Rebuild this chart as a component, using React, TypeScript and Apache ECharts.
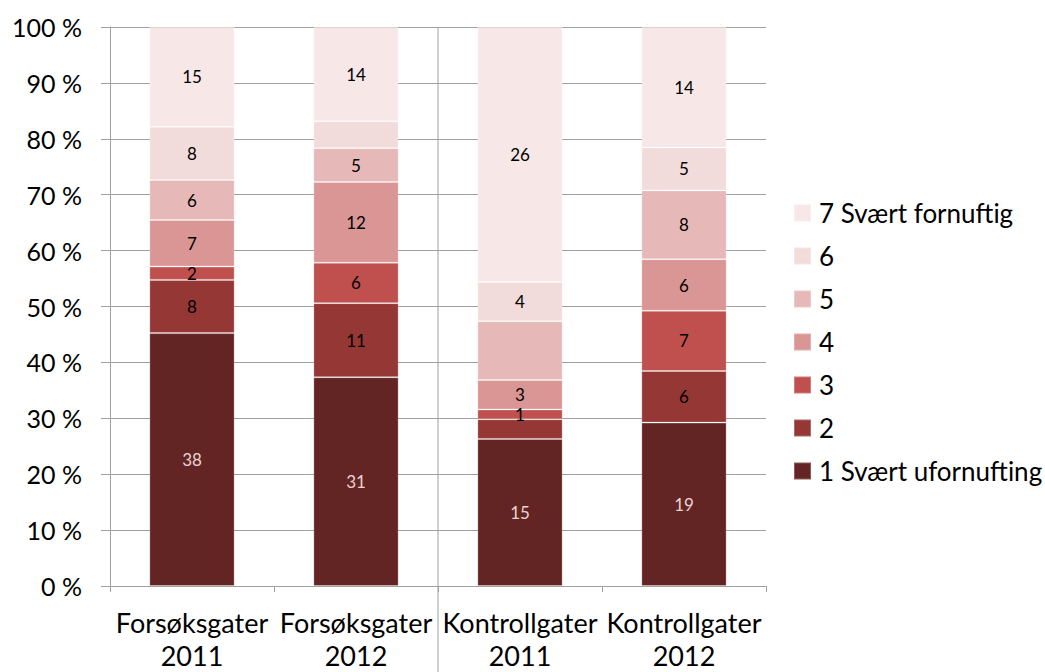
import React, { useEffect, useRef } from "react";
import * as echarts from "echarts";

const categories = ["Forsøksgater\n2011", "Forsøksgater\n2012", "Kontrollgater\n2011", "Kontrollgater\n2012"];
const seriesNames = ["1 Svært ufornufting", "2", "3", "4", "5", "6", "7 Svært fornuftig"];
const counts1 = [38, 31, 15, 19];
const counts2 = [8, 11, 2, 6];
const counts3 = [2, 6, 1, 7];
const counts4 = [7, 12, 3, 6];
const counts5 = [6, 5, 6, 8];
const counts6 = [8, 4, 4, 5];
const counts7 = [15, 14, 26, 14];
// [seriesIndex, categoryIndex] of segments with no visible label in the reference
const unlabeled = [[1, 2], [4, 2], [5, 1]];
const yTicks = [0, 10, 20, 30, 40, 50, 60, 70, 80, 90, 100];

const colors = ["#632523", "#953735", "#C0504D", "#D99694", "#E6B9B8", "#F2DCDB", "#F7E7E7"];
const FONT = "Lato";

export default function App() {
  const ref = useRef<HTMLDivElement>(null);
  useEffect(() => {
    if (!ref.current) return;
    const chart = echarts.init(ref.current, null, { renderer: "svg" });
    const all = [counts1, counts2, counts3, counts4, counts5, counts6, counts7];
    const totals = categories.map((_, c) => all.reduce((s, arr) => s + arr[c], 0));
    const gridLeft = 110, gridRight = 279, gridTop = 27, gridBottom = 82;
    const W = 1045, H = 672;
    const plotW = W - gridLeft - gridRight;
    const series = all.map((arr, si) => ({
      name: seriesNames[si],
      type: "bar",
      stack: "total",
      barWidth: "52%",
      itemStyle: { color: colors[si], borderColor: "rgba(255,255,255,0.25)", borderWidth: 1 },
      label: {
        show: true,
        position: "inside",
        fontFamily: FONT,
        fontSize: 17,
        lineHeight: 16,
        color: si === 0 ? "#EAD3D2" : "#000",
        formatter: (p: any) => String(p.data.count),
      },
      data: arr.map((v, ci) => {
        const hide = unlabeled.some(([s, c]) => s === si && c === ci);
        const item: any = { value: (v / totals[ci]) * 100, count: v };
        if (hide) item.label = { show: false };
        return item;
      }),
    }));
    chart.setOption({
      animation: false,
      backgroundColor: "#fff",
      textStyle: { fontFamily: FONT },
      grid: { left: gridLeft, right: gridRight, top: gridTop, bottom: gridBottom, containLabel: false },
      legend: {
        orient: "vertical",
        left: 793,
        top: 200,
        padding: 0,
        itemWidth: 17,
        itemHeight: 17,
        itemGap: 17,
        icon: "rect",
        data: [...seriesNames].reverse(),
        textStyle: { fontFamily: FONT, fontSize: 26, color: "#000", padding: [0, 0, 0, 3] },
      },
      xAxis: {
        type: "category",
        data: categories,
        axisLine: { lineStyle: { color: "#A0A0A0", width: 1 } },
        axisTick: { show: true, length: 6, lineStyle: { color: "#A0A0A0" } },
        axisLabel: { interval: 0, fontFamily: FONT, fontSize: 27, color: "#000", lineHeight: 33, margin: 20 },
      },
      yAxis: {
        type: "value",
        min: yTicks[0],
        max: yTicks[yTicks.length - 1],
        interval: 10,
        axisLine: { show: true, lineStyle: { color: "#A0A0A0", width: 1 } },
        axisTick: { show: true, length: 9, lineStyle: { color: "#A0A0A0" } },
        splitLine: { lineStyle: { color: "#A0A0A0", width: 1 } },
        axisLabel: { fontFamily: FONT, fontSize: 25, color: "#000", margin: 28, formatter: "{value} %" },
      },
      graphic: [
        {
          type: "line",
          shape: { x1: gridLeft + plotW / 2, y1: gridTop, x2: gridLeft + plotW / 2, y2: H },
          style: { stroke: "#A0A0A0", lineWidth: 1 },
          z: 10,
        },
      ],
      series,
    });
    return () => chart.dispose();
  }, []);
  return <div ref={ref} style={{ position: "fixed", left: 0, top: 0, width: 1045, height: 672 }} />;
}
